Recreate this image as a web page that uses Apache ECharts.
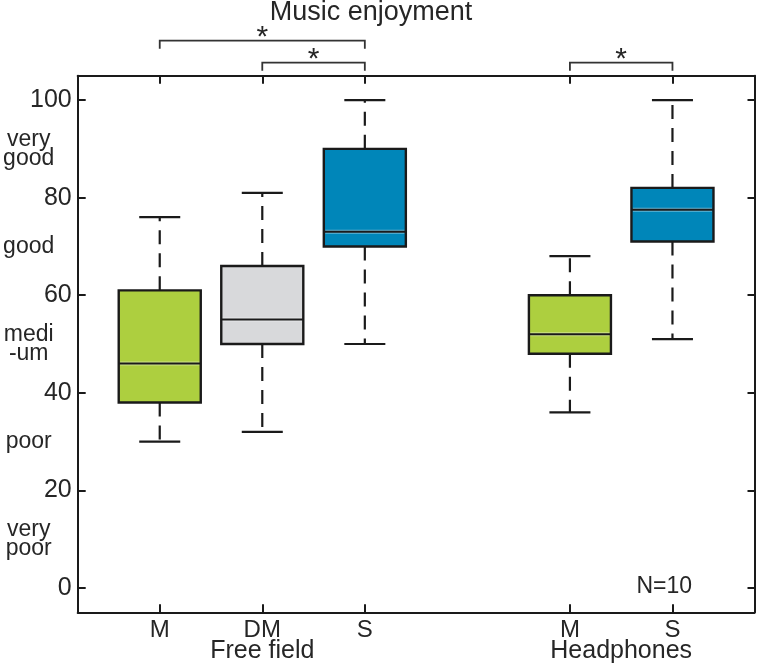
<!DOCTYPE html>
<html><head><meta charset="utf-8">
<script src="https://cdn.jsdelivr.net/npm/echarts@6/dist/echarts.min.js"></script>
<style>html,body{margin:0;padding:0;background:#fff}#c{width:757px;height:665px}</style>
</head><body><div id="c"></div>
<script>
// ---- data ----
const positions = [1, 2, 3, 5, 6];
const categoryLabels = ['M', 'DM', 'S', 'M', 'S'];
const groupLabels = ['Free field', 'Headphones'];
const groupPositions = [2, 5.5];
const whiskerLow = [30, 32, 50, 36, 51];
const q1 = [38, 50, 70, 48, 71];
const median = [46, 55, 73, 52, 77.5];
const q3 = [61, 66, 90, 60, 82];
const whiskerHigh = [76, 81, 100, 68, 100];
const boxColorIndex = [0, 1, 2, 0, 2];
const yTicks = [0, 20, 40, 60, 80, 100];
const ratingValues = [10, 30, 50, 70, 90];
const ratingLabels = ['very\npoor', 'poor', 'medi\n-um', 'good', 'very\ngood'];
const sigFrom = [1, 2, 5];
const sigTo = [3, 3, 6];
const sigLevel = [1, 0, 0];
const titleText = 'Music enjoyment';
const noteText = 'N=10';

// ---- style ----
const palette = ['#ADCF3F', '#D8D9DB', '#0086B9'];
const FONT = '"Liberation Sans", Arial, Helvetica, sans-serif';
const INK = '#1a1a1a';
const TXT = '#262626';
const BOX_W = 0.8, CAP_W = 0.4;

const chart = echarts.init(document.getElementById('c'), null, {renderer: 'canvas'});

const boxData = positions.map((p, i) => [p, whiskerLow[i], q1[i], median[i], q3[i], whiskerHigh[i], boxColorIndex[i]]);
const sigData = sigFrom.map((a, i) => [a, sigTo[i], sigLevel[i]]);

function renderBox(params, api) {
  const x = api.value(0);
  const pLo = api.coord([x, api.value(1)]);
  const pQ1 = api.coord([x, api.value(2)]);
  const pMed = api.coord([x, api.value(3)]);
  const pQ3 = api.coord([x, api.value(4)]);
  const pHi = api.coord([x, api.value(5)]);
  const color = palette[api.value(6)];
  const cx = pLo[0];
  const half = api.size([BOX_W, 0])[0] / 2;
  const capHalf = api.size([CAP_W, 0])[0] / 2;
  const dashStyle = {stroke: INK, lineWidth: 2.2, lineDash: [14, 9], fill: null};
  const solid = {stroke: INK, lineWidth: 2.2, fill: null};
  return {
    type: 'group',
    children: [
      {type: 'line', shape: {x1: cx, y1: pQ3[1], x2: cx, y2: pHi[1]}, style: dashStyle},
      {type: 'line', shape: {x1: cx, y1: pQ1[1], x2: cx, y2: pLo[1]}, style: dashStyle},
      {type: 'line', shape: {x1: cx - capHalf, y1: pHi[1], x2: cx + capHalf, y2: pHi[1]}, style: solid},
      {type: 'line', shape: {x1: cx - capHalf, y1: pLo[1], x2: cx + capHalf, y2: pLo[1]}, style: solid},
      {type: 'rect', shape: {x: cx - half, y: pQ3[1], width: 2 * half, height: pQ1[1] - pQ3[1]},
        style: {fill: color, stroke: INK, lineWidth: 2.4}},
      {type: 'line', shape: {x1: cx - half + 1.5, y1: pMed[1], x2: cx + half - 1.5, y2: pMed[1]},
        style: {stroke: 'rgba(255,255,255,0.4)', lineWidth: 4, fill: null}},
      {type: 'line', shape: {x1: cx - half, y1: pMed[1], x2: cx + half, y2: pMed[1]},
        style: {stroke: INK, lineWidth: 2, fill: null}}
    ]
  };
}

function renderSig(params, api) {
  const xa = api.coord([api.value(0), 0])[0];
  const xb = api.coord([api.value(1), 0])[0];
  const level = api.value(2);
  const top = params.coordSys.y;
  const ly = top - 13 - level * 22;
  const st = {stroke: '#333', lineWidth: 1.8, fill: null};
  return {
    type: 'group',
    children: [
      {type: 'polyline', shape: {points: [[xa, ly + 8], [xa, ly], [xb, ly], [xb, ly + 8]]}, style: st},
      {type: 'text', style: {text: '*', x: (xa + xb) / 2, y: ly - 3, textAlign: 'center', textVerticalAlign: 'middle',
        font: '30px ' + FONT, fill: TXT}}
    ]
  };
}

const axisLine = {show: true, onZero: false, lineStyle: {color: INK, width: 2}};
const tickStyle = {color: INK, width: 2};

const option = {
  animation: false,
  backgroundColor: '#fff',
  grid: {left: 77.7, right: 2.5, top: 75.7, bottom: 52.7},
  xAxis: [
    {type: 'value', min: 0.2, max: 6.8, position: 'bottom', axisLine,
      axisTick: {show: true, inside: true, length: 8, customValues: positions, lineStyle: tickStyle},
      axisLabel: {show: true, customValues: positions, formatter: v => categoryLabels[positions.indexOf(v)],
        fontSize: 24, fontFamily: FONT, color: TXT, margin: 6},
      splitLine: {show: false}},
    {type: 'value', min: 0.2, max: 6.8, position: 'top', axisLine,
      axisTick: {show: true, inside: true, length: 8, customValues: positions, lineStyle: tickStyle},
      axisLabel: {show: false}, splitLine: {show: false}},
    {type: 'value', min: 0.2, max: 6.8, position: 'bottom', axisLine: {show: false, onZero: false}, axisTick: {show: false},
      axisLabel: {show: true, customValues: groupPositions, formatter: v => groupLabels[groupPositions.indexOf(v)],
        fontSize: 25, fontFamily: FONT, color: TXT, margin: 26},
      splitLine: {show: false}}
  ],
  yAxis: [
    {type: 'value', min: -5, max: 105, position: 'left', axisLine,
      axisTick: {show: true, inside: true, length: 8, customValues: yTicks, lineStyle: tickStyle},
      axisLabel: {show: true, customValues: yTicks, fontSize: 25, fontFamily: FONT, color: TXT, margin: 6},
      splitLine: {show: false}},
    {type: 'value', min: -5, max: 105, position: 'right', axisLine,
      axisTick: {show: true, inside: true, length: 7, customValues: yTicks, lineStyle: tickStyle},
      axisLabel: {show: false}, splitLine: {show: false}},
    {type: 'value', min: -5, max: 105, position: 'left', axisLine: {show: false, onZero: false}, axisTick: {show: false},
      axisLabel: {show: true, customValues: ratingValues, formatter: v => ratingLabels[ratingValues.indexOf(v)],
        fontSize: 23, lineHeight: 19, fontFamily: FONT, color: TXT, margin: 49, align: 'center'},
      splitLine: {show: false}}
  ],
  graphic: [
    {type: 'text', x: 371, y: 13, style: {text: titleText, font: '27px ' + FONT, fill: TXT,
      textAlign: 'center', textVerticalAlign: 'middle'}},
    {type: 'text', x: 692, y: 587, style: {text: noteText, font: '23px ' + FONT, fill: TXT,
      textAlign: 'right', textVerticalAlign: 'middle'}}
  ],
  series: [
    {type: 'custom', name: 'box', xAxisIndex: 0, yAxisIndex: 0, renderItem: renderBox,
      encode: {x: 0, y: [1, 2, 3, 4, 5]}, data: boxData, z: 3},
    {type: 'custom', name: 'sig', xAxisIndex: 0, yAxisIndex: 0, renderItem: renderSig, clip: false,
      encode: {x: [0, 1], y: 2}, data: sigData, z: 4}
  ]
};
chart.setOption(option);
</script>
</body></html>
